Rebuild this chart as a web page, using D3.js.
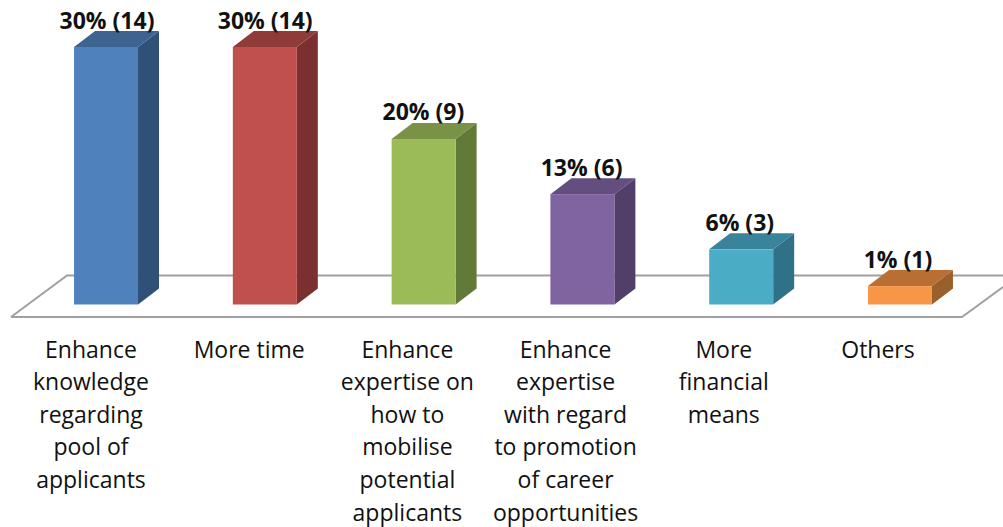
<!DOCTYPE html>
<html>
<head>
<meta charset="utf-8">
<script src="https://cdn.jsdelivr.net/npm/d3@7"></script>
<style>
html, body { margin: 0; padding: 0; background: #fff; }
svg { display: block; }
text { font-family: "Open Sans", sans-serif; fill: #111; }
</style>
</head>
<body>
<svg id="chart"></svg>
<script>
const categories = [
    ["Enhance", "knowledge", "regarding", "pool of", "applicants"],
    ["More time"],
    ["Enhance", "expertise on", "how to", "mobilise", "potential", "applicants"],
    ["Enhance", "expertise", "with regard", "to promotion", "of career", "opportunities"],
    ["More", "financial", "means"],
    ["Others"]
];
const percents = [30, 30, 20, 13, 6, 1];
const counts = [14, 14, 9, 6, 3, 1];
const frontColors = ["#4f81bd", "#c0504d", "#9bbb59", "#8064a2", "#4bacc6", "#f79646"];
const sideColors = ["#2f5178", "#7a302e", "#617a37", "#513f69", "#2f7288", "#9b5f2b"];
const topColors = ["#3d6391", "#8f3b39", "#799245", "#644e80", "#3a849b", "#b96f33"];

const width = 1003;
const height = 527;

const svg = d3.select("#chart")
    .attr("width", width)
    .attr("height", height);

const xScale = d3.scaleBand()
    .domain(d3.range(categories.length))
    .range([11, 995])
    .paddingInner(0.597)
    .paddingOuter(0.397);

// text sits on a slightly tighter step than the bars
const valueX = d3.scalePoint()
    .domain(d3.range(categories.length))
    .range([107, 898]);

const labelX = d3.scalePoint()
    .domain(d3.range(categories.length))
    .range([91, 882]);

// bar heights follow the counts, not the percentages
const yScale = d3.scaleLinear()
    .domain([0, 14])
    .range([304.5, 47]);

const depthX = 21;
const depthY = 16;

// floor of the 3d box
svg.append("path")
    .attr("d", "M11,317 L67,275.5 L1003,275.5 M11,317 L962,317 L1003,287")
    .attr("fill", "none")
    .attr("stroke", "#a0a0a0")
    .attr("stroke-width", 2);

const bars = svg.selectAll(".bar")
    .data(counts)
    .enter()
    .append("g")
    .attr("class", "bar");

bars.append("path")
    .attr("fill", (d, i) => sideColors[i])
    .attr("d", (d, i) => {
        const r = xScale(i) + xScale.bandwidth();
        return `M${r},${yScale(d)} l${depthX},${-depthY} V${yScale(0) - depthY} l${-depthX},${depthY} Z`;
    });

bars.append("path")
    .attr("fill", (d, i) => topColors[i])
    .attr("d", (d, i) => {
        const w = xScale.bandwidth();
        return `M${xScale(i)},${yScale(d)} l${depthX},${-depthY} h${w} l${-depthX},${depthY} Z`;
    });

bars.append("rect")
    .attr("x", (d, i) => xScale(i))
    .attr("y", d => yScale(d))
    .attr("width", xScale.bandwidth())
    .attr("height", d => yScale(0) - yScale(d))
    .attr("fill", (d, i) => frontColors[i]);

bars.append("text")
    .attr("x", (d, i) => valueX(i))
    .attr("y", d => yScale(d) - 18.5)
    .attr("text-anchor", "middle")
    .attr("font-size", 23)
    .attr("font-weight", "bold")
    .text((d, i) => `${percents[i]}% (${d})`);

const labels = svg.selectAll(".label")
    .data(categories)
    .enter()
    .append("text")
    .attr("class", "label")
    .attr("text-anchor", "middle")
    .attr("font-size", 23);

labels.selectAll("tspan")
    .data((d, i) => d.map(line => ({ line, i })))
    .enter()
    .append("tspan")
    .attr("x", d => labelX(d.i) - (d.i === 5 ? 4 : 0))
    .attr("y", (d, j) => 357.5 + j * 32.6)
    .text(d => d.line);
</script>
</body>
</html>
